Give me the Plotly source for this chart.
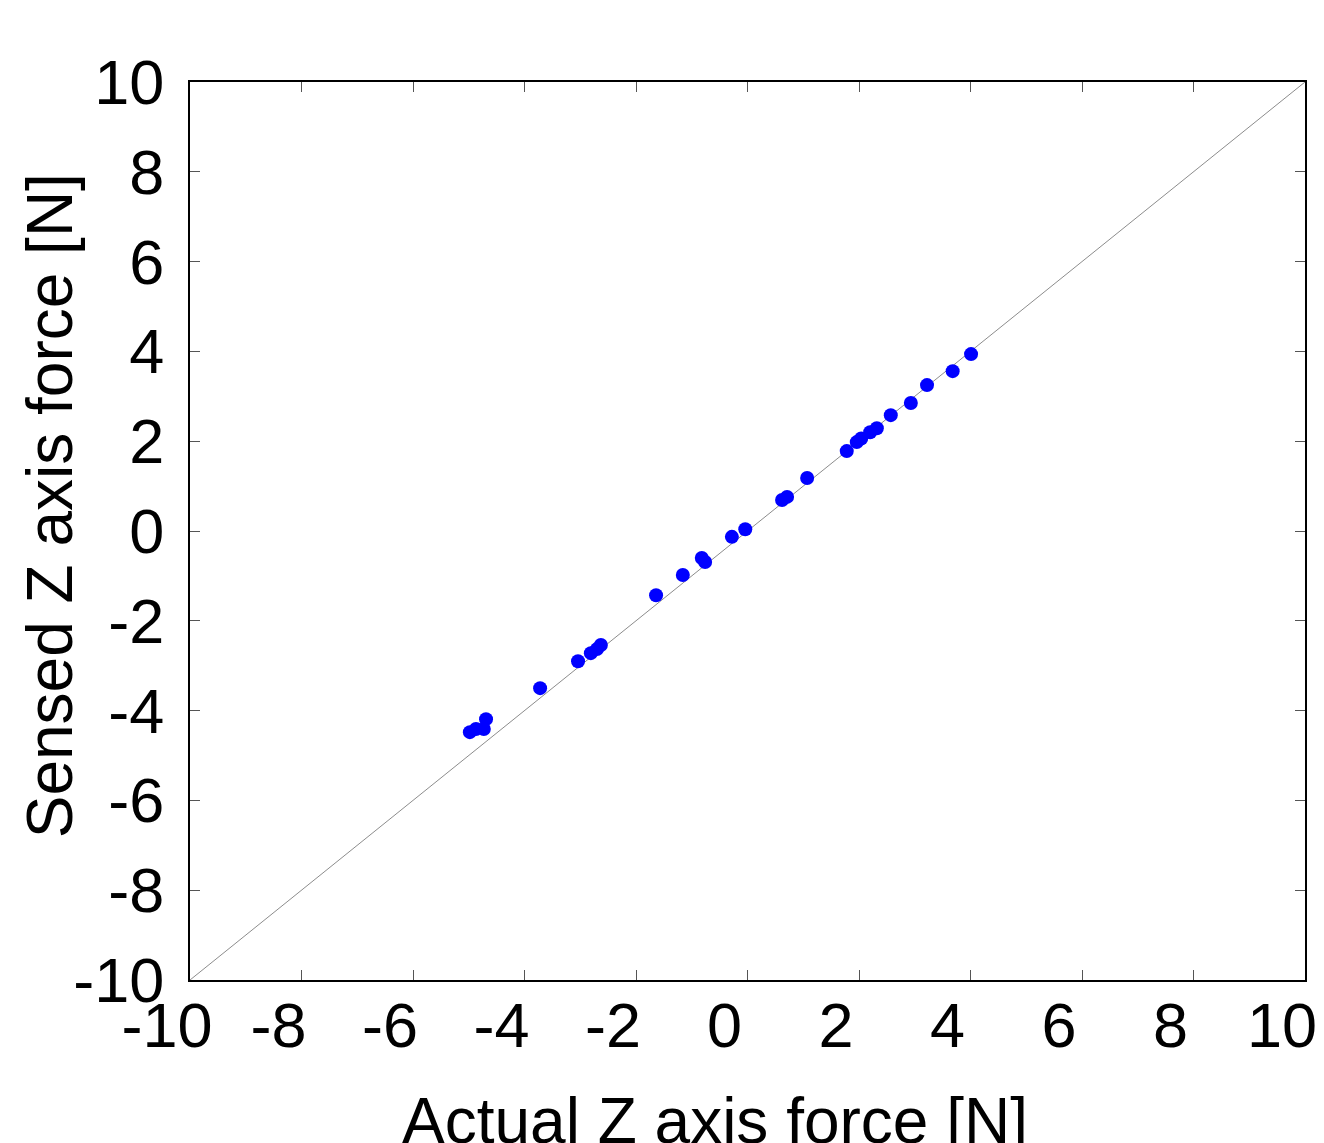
import plotly.graph_objects as go

# Data
actual = [-4.98, -4.87, -4.73, -4.69, -3.72, -3.04, -2.81, -2.70, -2.63,
          -1.64, -1.16, -0.82, -0.76, -0.28, -0.04, 0.62, 0.71, 1.07,
          1.78, 1.96, 2.04, 2.20, 2.32, 2.57, 2.93, 3.22, 3.68, 4.01]
sensed = [-4.48, -4.41, -4.41, -4.19, -3.50, -2.90, -2.72, -2.63, -2.54,
          -1.43, -0.98, -0.60, -0.69, -0.13, 0.04, 0.69, 0.76, 1.18,
          1.78, 1.98, 2.06, 2.20, 2.29, 2.58, 2.85, 3.25, 3.56, 3.94]
ideal_x = [-10, 10]
ideal_y = [-10, 10]
tick_vals = [-10, -8, -6, -4, -2, 0, 2, 4, 6, 8, 10]
tick_labels = ["-10", "-8", "-6", "-4", "-2", "0", "2", "4", "6", "8", "10"]

FONT = "Liberation Sans, Arial, sans-serif"

fig = go.Figure()
fig.add_trace(go.Scatter(x=ideal_x, y=ideal_y, mode="lines",
                         line=dict(color="#8c8c8c", width=1),
                         showlegend=False, hoverinfo="skip"))
fig.add_trace(go.Scatter(x=actual, y=sensed, mode="markers",
                         marker=dict(color="#0000ff", size=14),
                         showlegend=False))

axis_common = dict(
    range=[-10, 10], tickvals=tick_vals, ticktext=tick_labels,
    showgrid=False, zeroline=False, automargin=False,
    showline=True, linecolor="black", linewidth=2, mirror="ticks",
    ticks="inside", ticklen=10, tickwidth=1, tickcolor="#555555",
    tickfont=dict(family=FONT, size=63, color="black"),
)

fig.update_layout(
    width=1316, height=1135,
    margin=dict(l=182, r=19, t=74, b=163),
    paper_bgcolor="white", plot_bgcolor="white",
    xaxis=dict(**axis_common, ticklabelshift=-23, ticklabelstandoff=-11),
    yaxis=dict(**axis_common, ticklabelshift=0, ticklabelstandoff=11),
    annotations=[
        dict(text="Actual Z axis force [N]", xref="paper", yref="paper",
             x=0.4705, y=-0.1147, xanchor="center", yanchor="top", showarrow=False,
             font=dict(family=FONT, size=64, color="black")),
        dict(text="Sensed Z axis force [N]", xref="paper", yref="paper",
             x=-0.092, y=0.528, xanchor="right", yanchor="middle", textangle=-90,
             showarrow=False, font=dict(family=FONT, size=64, color="black")),
    ],
)

fig.write_html("out.html")
